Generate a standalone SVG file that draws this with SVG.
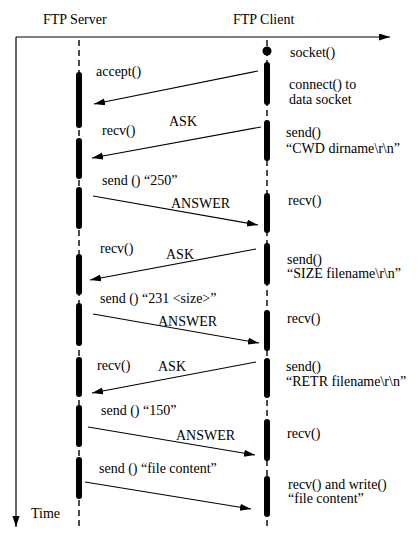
<svg xmlns="http://www.w3.org/2000/svg" width="419" height="544" viewBox="0 0 419 544">
<defs>
<marker id="ah" markerUnits="userSpaceOnUse" markerWidth="12" markerHeight="8" refX="11" refY="3.5" orient="auto">
<path d="M0,0 L11,3.5 L0,7 z" fill="#000"/>
</marker>
<style>
text{font-family:"Liberation Serif","Times New Roman",serif;font-size:14px;fill:#000}
.life{stroke:#000;stroke-width:1.4;stroke-dasharray:6,4;fill:none}
.bar{stroke:#000;stroke-width:6;stroke-linecap:round;fill:none}
.msg{stroke:#000;stroke-width:1.1;fill:none;marker-end:url(#ah)}
.axis{stroke:#000;stroke-width:1.2;fill:none;marker-end:url(#ah)}
</style>
</defs>
<rect width="419" height="544" fill="#fff"/>
<g id="axes">
<line class="axis" x1="16" y1="37" x2="390" y2="37"/>
<line class="axis" x1="16" y1="37" x2="16" y2="527"/>
<text x="31" y="518">Time</text>
</g>
<g id="server">
<text x="43" y="24">FTP Server</text>
<line class="life" x1="79" y1="40" x2="79" y2="528"/>
<line class="bar" x1="79" y1="75" x2="79" y2="125"/>
<line class="bar" x1="79" y1="141" x2="79" y2="176"/>
<line class="bar" x1="79" y1="190" x2="79" y2="226"/>
<line class="bar" x1="79" y1="257" x2="79" y2="292"/>
<line class="bar" x1="79" y1="306" x2="79" y2="343"/>
<line class="bar" x1="79" y1="360" x2="79" y2="394"/>
<line class="bar" x1="79" y1="408" x2="79" y2="444"/>
<line class="bar" x1="79" y1="460" x2="79" y2="496"/>
<text x="96" y="76">accept()</text>
<text x="102" y="135">recv()</text>
<text x="102" y="185">send () “250”</text>
<text x="100" y="253">recv()</text>
<text x="100" y="303">send () “231 &lt;size&gt;”</text>
<text x="97" y="370">recv()</text>
<text x="101" y="415">send () “150”</text>
<text x="99" y="473">send () “file content”</text>
</g>
<g id="client">
<text x="233" y="24">FTP Client</text>
<line class="life" x1="267" y1="40" x2="267" y2="528"/>
<circle cx="267" cy="51" r="4.5" fill="#000"/>
<line class="bar" x1="267" y1="65" x2="267" y2="102"/>
<line class="bar" x1="267" y1="123" x2="267" y2="158"/>
<line class="bar" x1="267" y1="196" x2="267" y2="230"/>
<line class="bar" x1="267" y1="246" x2="267" y2="282"/>
<line class="bar" x1="267" y1="313" x2="267" y2="348"/>
<line class="bar" x1="267" y1="361" x2="267" y2="395"/>
<line class="bar" x1="267" y1="422" x2="267" y2="458"/>
<line class="bar" x1="267" y1="479" x2="267" y2="514"/>
<text x="290" y="57">socket()</text>
<text x="289" y="89">connect() to</text>
<text x="289" y="104">data socket</text>
<text x="286" y="137">send()</text>
<text x="286" y="153">“CWD dirname\r\n”</text>
<text x="288" y="205">recv()</text>
<text x="287" y="264">send()</text>
<text x="287" y="278">“SIZE filename\r\n”</text>
<text x="287" y="323">recv()</text>
<text x="286" y="371">send()</text>
<text x="286" y="386">“RETR filename\r\n”</text>
<text x="287" y="438">recv()</text>
<text x="288" y="489">recv() and write()</text>
<text x="288" y="503">“file content”</text>
</g>
<g id="connectors">
<line class="msg" x1="258" y1="71" x2="94" y2="104"/>
<line class="msg" x1="261" y1="127" x2="92" y2="158"/>
<text x="169" y="126">ASK</text>
<line class="msg" x1="93" y1="196" x2="258" y2="225"/>
<text x="171" y="208">ANSWER</text>
<line class="msg" x1="256" y1="249" x2="90" y2="280"/>
<text x="166" y="259">ASK</text>
<line class="msg" x1="93" y1="314" x2="259" y2="343"/>
<text x="158" y="326">ANSWER</text>
<line class="msg" x1="256" y1="362" x2="92" y2="393"/>
<text x="158" y="371">ASK</text>
<line class="msg" x1="88" y1="427" x2="255" y2="455"/>
<text x="176" y="440">ANSWER</text>
<line class="msg" x1="85" y1="482" x2="251" y2="509"/>
</g>
</svg>
